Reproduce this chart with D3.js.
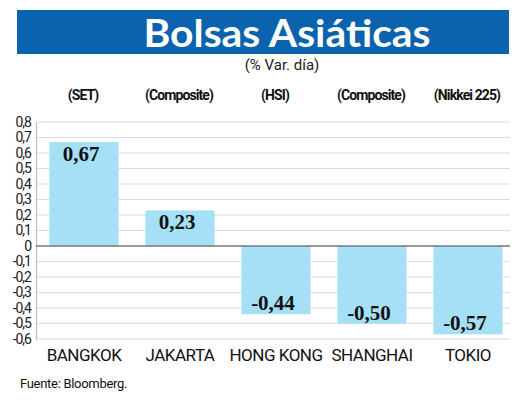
<!DOCTYPE html>
<html>
<head>
<meta charset="utf-8">
<script src="https://cdn.jsdelivr.net/npm/d3@7"></script>
<style>
  body { margin: 0; background: #fff; }
  svg { display: block; }
</style>
</head>
<body>
<div id="chart"></div>
<script>
// data
const cities = ["BANGKOK", "JAKARTA", "HONG KONG", "SHANGHAI", "TOKIO"];
const indices = ["(SET)", "(Composite)", "(HSI)", "(Composite)", "(Nikkei 225)"];
const changes = [0.67, 0.23, -0.44, -0.50, -0.57];
const yTicks = [0.8, 0.7, 0.6, 0.5, 0.4, 0.3, 0.2, 0.1, 0, -0.1, -0.2, -0.3, -0.4, -0.5, -0.6];

const width = 520, height = 414;
const margin = {top: 122, right: 10, bottom: 75, left: 36};
const sans = "Roboto, 'Liberation Sans', sans-serif";

// comma decimals and a plain hyphen for negatives
const es = d3.formatLocale({decimal: ",", thousands: ".", grouping: [3], currency: ["", ""], minus: "-"});
const fmtTick = d => d === 0 ? "0" : es.format(".1f")(d);
const fmtVal = es.format(".2f");

const svg = d3.select("#chart").append("svg")
  .attr("width", width)
  .attr("height", height);

// title band
svg.append("rect")
  .attr("x", 17).attr("y", 10)
  .attr("width", 492).attr("height", 44)
  .attr("fill", "#0b63ad");

svg.append("text")
  .attr("x", 287).attr("y", 47)
  .attr("text-anchor", "middle")
  .attr("fill", "#fff")
  .attr("textLength", 287)
  .attr("lengthAdjust", "spacingAndGlyphs")
  .style("font-family", "Lato, 'Open Sans', sans-serif")
  .style("font-weight", "bold")
  .style("font-size", "38px")
  .text("Bolsas Asiáticas");

svg.append("text")
  .attr("x", 282).attr("y", 70)
  .attr("text-anchor", "middle")
  .attr("fill", "#222")
  .style("font-family", sans)
  .style("font-size", "15px")
  .text("(% Var. día)");

// scales
const x = d3.scaleBand()
  .domain(cities)
  .range([margin.left, 516])
  .paddingInner(0.28)
  .paddingOuter(0.14);

const y = d3.scaleLinear()
  .domain([-0.6, 0.8])
  .range([height - margin.bottom, margin.top]);

// gridlines
svg.append("g")
  .selectAll("line")
  .data(yTicks.filter(d => d !== 0))
  .join("line")
    .attr("x1", margin.left).attr("x2", 510)
    .attr("y1", d => y(d)).attr("y2", d => y(d))
    .attr("stroke", "#dcdcdc")
    .attr("stroke-width", 1.2);

// y axis
const yAxis = svg.append("g")
  .attr("transform", `translate(${margin.left},0)`)
  .call(d3.axisLeft(y).tickValues(yTicks).tickFormat(fmtTick).tickSize(0).tickPadding(5));
yAxis.select(".domain").attr("stroke", "#bbb").attr("stroke-width", 1.2);
yAxis.selectAll("text")
  .attr("fill", "#222")
  .style("font-family", sans)
  .style("font-size", "14px")
  .style("letter-spacing", "-1px");

// bars
svg.append("g")
  .selectAll("rect")
  .data(changes)
  .join("rect")
    .attr("x", (d, i) => x(cities[i]))
    .attr("y", d => y(Math.max(0, d)))
    .attr("width", x.bandwidth())
    .attr("height", d => Math.abs(y(d) - y(0)))
    .attr("fill", "#a5e0f6");

// zero line
svg.append("line")
  .attr("x1", margin.left).attr("x2", 510)
  .attr("y1", y(0)).attr("y2", y(0))
  .attr("stroke", "#777")
  .attr("stroke-width", 1.5);

// value labels
svg.append("g")
  .selectAll("text")
  .data(changes)
  .join("text")
    .attr("x", (d, i) => x(cities[i]) + x.bandwidth() / 2 - 3)
    .attr("y", d => d >= 0 ? y(d) + 19 : y(d) - 4)
    .attr("text-anchor", "middle")
    .attr("fill", "#111")
    .style("font-family", "'Liberation Serif', 'DejaVu Serif', serif")
    .style("font-weight", "bold")
    .style("font-size", "21px")
    .text(d => fmtVal(d));

// index labels above columns
svg.append("g")
  .selectAll("text")
  .data(indices)
  .join("text")
    .attr("x", (d, i) => x(cities[i]) + x.bandwidth() / 2 - 1)
    .attr("y", 100)
    .attr("text-anchor", "middle")
    .attr("fill", "#111")
    .style("font-family", sans)
    .style("font-weight", "bold")
    .style("font-size", "14px")
    .style("letter-spacing", "-0.9px")
    .text(d => d);

// category axis
const xAxis = svg.append("g")
  .attr("transform", `translate(0,${height - margin.bottom})`)
  .call(d3.axisBottom(x).tickSize(0).tickPadding(10));
xAxis.select(".domain").remove();
xAxis.selectAll("text")
  .attr("fill", "#111")
  .style("font-family", sans)
  .style("font-size", "17px")
  .style("letter-spacing", "-0.5px");

// source
svg.append("text")
  .attr("x", 20).attr("y", 388)
  .attr("fill", "#111")
  .style("font-family", sans)
  .style("font-size", "13px")
  .style("letter-spacing", "-0.3px")
  .text("Fuente: Bloomberg.");
</script>
</body>
</html>
